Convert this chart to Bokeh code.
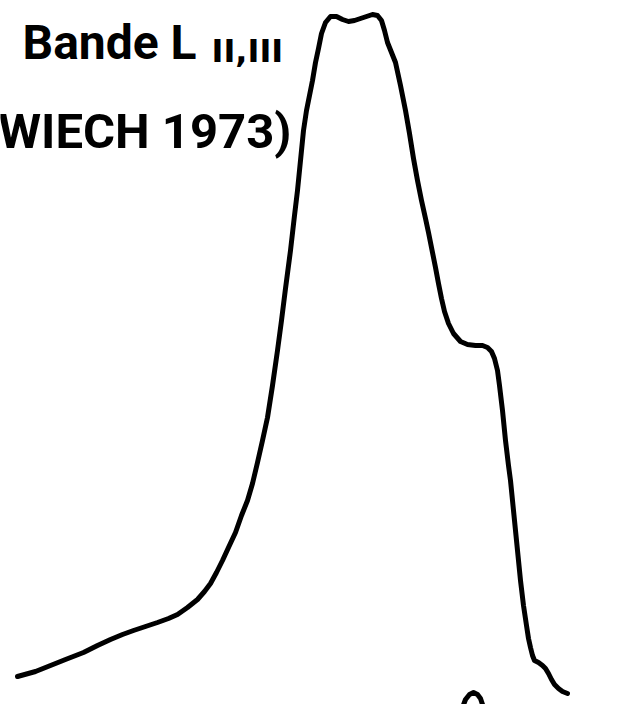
from bokeh.plotting import figure
from bokeh.models import Range1d, Label
from bokeh.embed import file_html
from bokeh.resources import INLINE

# Main L(II,III) emission band: abscissa and intensity
band_x = [17, 35, 50, 65, 83, 97, 110, 122, 133, 145,
          157, 168, 177, 187, 197, 204, 210, 216, 222, 228,
          235, 241, 247, 252, 257, 262, 267, 272, 277, 281,
          285, 290, 294, 297, 300, 303, 306, 309, 312, 315,
          318, 321, 325, 330, 336, 342, 348, 354, 360, 366,
          372, 377, 381, 384, 387, 391, 395, 400, 405, 409,
          413, 417, 421, 425, 428, 432, 435, 438, 441, 444,
          448, 453, 460, 467, 475, 482, 487, 491, 494, 497,
          499, 502, 505, 508, 510, 513, 515, 518, 520, 523,
          526, 528, 530, 532, 534, 538, 542, 545, 548, 551,
          554, 558, 562, 567]
band_y = [28, 33, 39, 45, 52, 59, 65, 70, 74, 78,
          82, 86, 90, 97, 105, 113, 121, 132, 144, 157,
          172, 189, 204, 221, 242, 264, 287, 319, 354, 384,
          416, 454, 489, 514, 544, 574, 594, 609, 624, 642,
          656, 671, 682, 688, 688, 685, 683, 684, 686, 688,
          690, 689, 684, 674, 662, 652, 642, 619, 594, 571,
          546, 524, 504, 486, 472, 452, 437, 421, 406, 393,
          381, 371, 363, 360, 359, 359, 357, 353, 346, 334,
          319, 294, 264, 239, 224, 194, 174, 144, 124, 99,
          79, 66, 57, 49, 44, 42, 39, 36, 31, 25,
          20, 16, 13, 11]

# Small feature at the bottom edge
hook_x = [462, 465, 469, 473, 477, 480, 483]
hook_y = [-3, 5, 10, 12, 10, 6, -3]

title_main = "Bande L"
title_sub = "II,III"
source = "(WIECH 1973)"

p = figure(width=631, height=704, output_backend="svg", toolbar_location=None,
           x_range=Range1d(0, 631), y_range=Range1d(0, 704), min_border=0)
p.axis.visible = False
p.grid.visible = False
p.outline_line_color = None
p.background_fill_color = "white"
p.border_fill_color = "white"

p.line(band_x, band_y, line_color="black", line_width=5, line_join="round", line_cap="round")
p.line(hook_x, hook_y, line_color="black", line_width=5, line_join="round", line_cap="round")

p.add_layout(Label(x=22, y=662, text=title_main, text_align="left", text_baseline="alphabetic",
                   text_font="Roboto", text_font_style="bold", text_font_size="48px", text_color="black"))
p.add_layout(Label(x=211, y=654, text=title_sub, text_align="left", text_baseline="alphabetic",
                   text_font="DejaVu Sans", text_font_style="bold", text_font_size="32px", text_color="black"))
p.add_layout(Label(x=291, y=573, text=source, text_align="right", text_baseline="alphabetic",
                   text_font="Roboto", text_font_style="bold", text_font_size="49px", text_color="black"))

open("out.html", "w").write(file_html(p, INLINE))
